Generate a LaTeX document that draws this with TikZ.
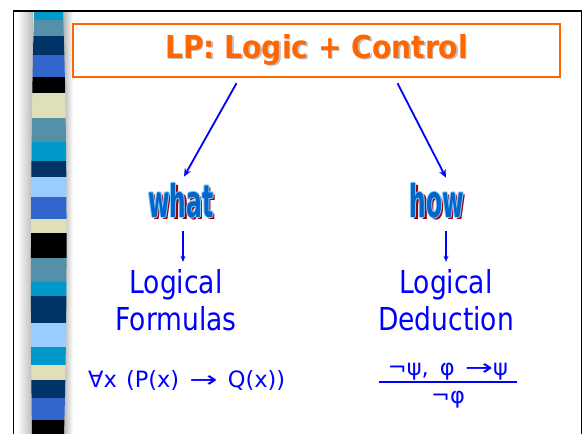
\documentclass[tikz,border=0pt]{standalone}
\usepackage{fontspec}
\setmainfont{DejaVu Sans}
\newfontfamily\slidefont[FakeStretch=0.84]{DejaVu Sans}
\newfontfamily\headfont[FakeStretch=0.89]{DejaVu Sans}
\newfontfamily\artfont[FakeStretch=0.52]{DejaVu Sans}
\usetikzlibrary{arrows.meta,positioning,calc}

\definecolor{lporange}{HTML}{FF6600}
\definecolor{lpblue}{HTML}{0000FF}
\definecolor{artfill}{HTML}{0066CC}
\definecolor{artedge}{HTML}{88CCFF}
\definecolor{artshadow}{HTML}{990000}
\definecolor{stA}{HTML}{0099CC}
\definecolor{stB}{HTML}{5590AA}
\definecolor{stC}{HTML}{003366}
\definecolor{stD}{HTML}{3366CC}
\definecolor{stE}{HTML}{000000}
\definecolor{stF}{HTML}{E0E0B8}
\definecolor{stG}{HTML}{99CCFF}

% text with a drop shadow
\newcommand{\dropshadow}[2]{\rlap{\hspace{1.5pt}\raisebox{-1.5pt}{\color{#1}#2}}#2}
% word art: dark shadow, light rim, blue fill
\newcommand{\wordart}[1]{%
  \rlap{\hspace{2.2pt}\raisebox{-2.2pt}{\color{artshadow}#1}}%
  \rlap{\hspace{-1pt}\color{artedge}#1}\rlap{\hspace{1pt}\color{artedge}#1}%
  \rlap{\raisebox{1pt}{\color{artedge}#1}}\rlap{\raisebox{-1pt}{\color{artedge}#1}}%
  {\color{artfill}#1}}
% wide arrow as in the slide
\newcommand{\widearrow}{\scalebox{1.5}[1]{→}}

\begin{document}
\begin{tikzpicture}[x=1pt,y=-1pt,
    title/.style={draw=lporange, line width=2.5pt, minimum width=487pt, minimum height=53pt,
      text=lporange, font=\headfont\bfseries\fontsize{31.6}{36}\selectfont},
    art/.style={inner sep=0pt, font=\artfont\bfseries\fontsize{45}{50}\selectfont},
    body/.style={inner sep=0pt, align=center, text=lpblue,
      font=\slidefont\fontsize{31.6}{37}\selectfont},
    formula/.style={inner sep=0pt, align=center, text=lpblue,
      font=\fontsize{22.5}{27}\selectfont},
    arr/.style={-{Stealth[length=8pt,width=7pt]}, lpblue, line width=1.8pt},
    smallarr/.style={-{Stealth[length=6pt,width=5pt]}, lpblue, line width=1.4pt}
  ]
  \useasboundingbox (0,0) rectangle (582,434);

  % slide frame
  \draw[line width=1.2pt] (13.5,434) -- (13.5,11);
  \draw[line width=1pt] (581,434) -- (581,11);
  \draw[line width=2pt] (13,11) -- (582,11);

  % striped bar on the left
  \shade[left color=white, right color=gray!55] (17,12) rectangle (33,434);
  \shade[left color=gray!60, right color=white] (63,12) rectangle (73,434);
  \begin{scope}
    \clip (34,12) .. controls (31,120) and (30,300) .. (32,434) -- (64,434)
      .. controls (68,300) and (67,120) .. (63,12) -- cycle;
    \foreach \ya/\yb/\col in {12/20/stA, 20/36/stB, 36/55/stC, 55/77/stD, 77/93/stE,
        93/118/stF, 118/142/stB, 142/161/stA, 161/177/stC, 177/197/stG, 197/219/stD,
        219/233/stF, 233/258/stE, 258/282/stB, 282/296/stA, 296/323/stC, 323/347/stG,
        347/365/stA, 365/380/stF, 380/398/stC, 398/420/stD, 420/434/stE}
      \fill[\col] (20,\ya) rectangle (80,\yb);
  \end{scope}

  \node[title] (title) at (316.5,50.5) {\dropshadow{gray!50}{LP: Logic + Control}};

  \node[art, anchor=base] (what) at (181,217) {\wordart{what}};
  \node[art, anchor=base] (how) at (437,217) {\wordart{how}};

  % base of a two line node is the last line
  \node[body, anchor=base] (formulas) at (176,330) {Logical\\Formulas};
  \node[body, anchor=base] (deduction) at (446,330) {Logical\\Deduction};

  \node[formula, anchor=base west] (fol) at (88,387)
    {∀x\hspace{2pt} (P(x)\hspace{3pt} \widearrow\hspace{3pt} Q(x))};
  \node[formula, anchor=base] (rule) at (448,403)
    {¬ψ,\hspace{4pt} φ\hspace{3pt} \widearrow ψ\\[-19pt]\rule{138pt}{2pt}\\[-7pt]¬φ};

  \draw[arr] ([xshift=-80pt,yshift=-5pt]title.south) -- ([xshift=3pt,yshift=5pt]what.north);
  \draw[arr] ([xshift=81pt,yshift=-5pt]title.south) -- ([xshift=9pt,yshift=4pt]how.north);
  \draw[smallarr] ([xshift=2pt,yshift=-11pt]what.south) -- ([xshift=2pt,yshift=7pt]what.south |- formulas.north);
  \draw[smallarr] ([yshift=-11pt]deduction.north |- how.south) -- ([yshift=7pt]deduction.north);
\end{tikzpicture}
\end{document}
